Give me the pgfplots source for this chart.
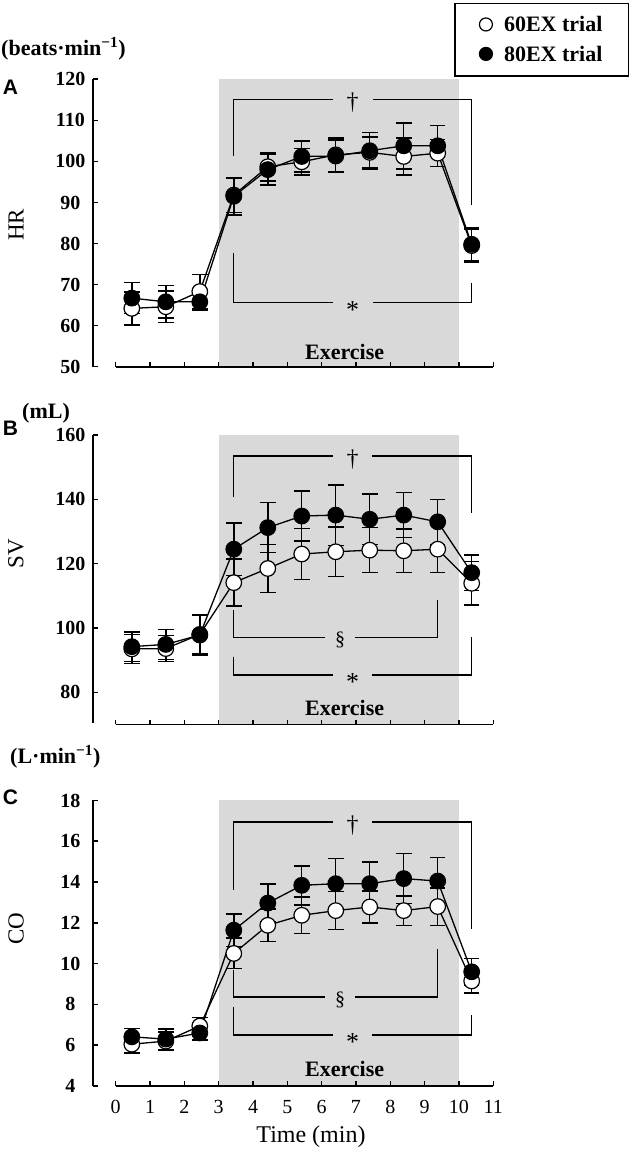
\documentclass[border=0pt]{standalone}
\usepackage{pgfplots}
\pgfplotsset{compat=1.18}
\usepackage{pgfplotstable}
\usepackage{fontspec}
\setmainfont{Liberation Serif}
\newfontfamily\arial{Liberation Sans}

\definecolor{exgray}{RGB}{217,217,217}

% x, 60EX (a, ea), 80EX (b, eb)
\pgfplotstableread{
x     a     ea   b     eb
0.47  64.2  4.0  66.7  3.8
1.46  64.6  3.8  65.8  4.0
2.45  68.3  4.2  65.8  2.0
3.44  91.8  4.3  91.5  4.5
4.43  98.7  3.5  98.0  3.8
5.42  99.9  3.2  101.2 3.8
6.41  101.6 4.1  101.3 3.9
7.40  102.2 3.8  102.6 4.4
8.39  101.2 4.5  103.8 5.6
9.38  102.0 3.3  103.8 5.0
10.37 79.5  4.0  79.8  4.0
}\hrdata

\pgfplotstableread{
x     a     ea   b     eb
0.47  93.5  4.5  94.2  4.6
1.46  93.6  4.0  94.9  4.7
2.45  98.0  6.0  97.8  6.2
3.44  114.1 7.3  124.5 8.2
4.43  118.5 7.5  131.2 7.8
5.42  123.0 7.9  134.8 7.8
6.41  123.7 7.7  135.1 9.4
7.40  124.2 7.0  133.8 7.8
8.39  124.0 6.8  135.1 7.0
9.38  124.5 7.3  133.0 7.0
10.37 113.9 6.8  117.2 5.5
}\svdata

\pgfplotstableread{
x     a     ea    b     eb
0.47  6.05  0.42  6.41  0.41
1.46  6.20  0.45  6.30  0.50
2.45  6.94  0.42  6.60  0.35
3.44  10.50 0.75  11.64 0.80
4.43  11.88 0.80  12.97 0.93
5.42  12.37 0.90  13.84 0.96
6.41  12.60 0.93  13.92 1.23
7.40  12.78 0.78  13.92 1.06
8.39  12.60 0.72  14.17 1.23
9.38  12.80 0.92  14.05 1.15
10.37 9.15  0.60  9.60  0.65
}\codata

\pgfplotsset{
  panel/.style={
    scale only axis, width=400pt, clip=false, axis on top,
    xmin=-0.652, xmax=11,
    axis lines=left, axis line style={draw=none,-},
    tick align=inside, major tick length=4.5pt,
    tick style={black, line width=1.6pt},
    xtick={0,...,11},
    yticklabel style={font=\bfseries\fontsize{20}{24}\selectfont, anchor=center, xshift=-23pt},
    xticklabel style={font=\fontsize{20}{24}\selectfont, anchor=base, yshift=-27.3pt},
  },
  series/.style={black, line width=1.3pt, mark=*, mark size=7.8pt,
    mark options={fill=#1, line width=1.2pt},
    error bars/y dir=both, error bars/y explicit,
    error bars/error bar style={line width=1.5pt},
    error bars/error mark options={rotate=90, mark size=7.8pt, line width=1.5pt}},
  sopen/.style={series=white},
  sfill/.style={series=black},
}
\tikzset{
  br/.style={line width=1.3pt},
  ax/.style={line width=1.8pt},
  dag/.style={font=\fontsize{24}{24}\selectfont, anchor=base, yshift=-10.1pt, inner sep=0pt},
  sec/.style={font=\fontsize{20}{20}\selectfont, anchor=base, yshift=-8.6pt, inner sep=0pt},
  ast/.style={font=\fontsize{26}{26}\selectfont, anchor=base, yshift=-15.5pt, inner sep=0pt},
  exer/.style={font=\bfseries\fontsize{22}{22}\selectfont},
  unit/.style={anchor=west, inner sep=0pt, font=\bfseries\fontsize{22}{22}\selectfont},
  letter/.style={font=\arial\bfseries\fontsize{21}{21}\selectfont},
  ylab/.style={rotate=90, font=\fontsize{23}{23}\selectfont},
}

\begin{document}
\begin{tikzpicture}
\useasboundingbox (0,0) rectangle (631pt,1150pt);

% ---- A: HR ----
\begin{axis}[panel, at={(93.3pt,783.3pt)}, anchor=south west, height=287.4pt,
  ymin=50, ymax=120, ytick={50,60,...,120},
  yticklabels={50,60,70,80,90,100,110,120}, xticklabels={},
  legend style={at={(axis description cs:1.34,1.2665)}, anchor=north east,
    draw=black, line width=1.8pt, font=\bfseries\fontsize{22}{26}\selectfont,
    inner xsep=24pt, inner ysep=11pt, row sep=8.7pt, column sep=9pt,
    nodes={inner sep=2pt, anchor=base}},
  legend cell align=left]
\fill[exgray] (axis cs:3,50) rectangle (axis cs:10,120);
\draw[ax] (axis cs:-0.652,50) -- (axis cs:-0.652,120);
\draw[ax] (axis cs:0,50) -- (axis cs:11,50);
\draw[br] (axis cs:3.44,101.2) |- (axis cs:6.33,115.1);
\draw[br] (axis cs:7.5,115.1) -| (axis cs:10.37,89.4);
\node[dag] at (axis cs:6.9,115.1) {†};
\draw[br] (axis cs:3.44,77.6) |- (axis cs:6.33,65.6);
\draw[br] (axis cs:7.5,65.6) -| (axis cs:10.37,70.5);
\node[ast] at (axis cs:6.9,65.6) {*};
\node[exer] at (axis cs:6.67,53.7) {Exercise};
\addplot[forget plot, sopen] table[x=x, y=a, y error=ea] {\hrdata};
\addplot[forget plot, sfill] table[x=x, y=b, y error=eb] {\hrdata};
\addlegendimage{legend image code/.code={\draw[line width=1.2pt, fill=white] (0pt,7.4pt) circle (6.5pt);}}
\addlegendentry{60EX trial}
\addlegendimage{legend image code/.code={\draw[line width=1.2pt, fill=black] (0pt,7.4pt) circle (6.5pt);}}
\addlegendentry{80EX trial}
\end{axis}

% ---- B: SV ----
\begin{axis}[panel, at={(93.3pt,425.5pt)}, anchor=south west, height=289.5pt,
  ymin=70, ymax=160, ytick={80,100,...,160},
  yticklabels={80,100,120,140,160}, xticklabels={}]
\fill[exgray] (axis cs:3,70) rectangle (axis cs:10,160);
\draw[ax] (axis cs:-0.652,70.6) -- (axis cs:-0.652,160);
\draw[ax] (axis cs:0,70) -- (axis cs:11,70);
\draw[br] (axis cs:3.44,140.8) |- (axis cs:6.33,153.5);
\draw[br] (axis cs:7.48,153.5) -| (axis cs:10.37,135.6);
\node[dag] at (axis cs:6.9,153.5) {†};
\draw[br] (axis cs:3.44,105.6) |- (axis cs:6.1,97.1);
\draw[br] (axis cs:6.98,97.1) -| (axis cs:9.38,108.7);
\node[sec] at (axis cs:6.54,97.1) {§};
\draw[br] (axis cs:3.44,91.1) |- (axis cs:6.33,85.4);
\draw[br] (axis cs:7.48,85.4) -| (axis cs:10.37,97.3);
\node[ast] at (axis cs:6.9,85.4) {*};
\node[exer] at (axis cs:6.67,75.1) {Exercise};
\addplot[sopen] table[x=x, y=a, y error=ea] {\svdata};
\addplot[sfill] table[x=x, y=b, y error=eb] {\svdata};
\end{axis}

% ---- C: CO ----
\begin{axis}[panel, at={(93.3pt,64pt)}, anchor=south west, height=285.5pt,
  ymin=4, ymax=18, ytick={4,6,...,18},
  yticklabels={4,6,8,10,12,14,16,18},
  xticklabels={0,1,2,3,4,5,6,7,8,9,10,11}]
\fill[exgray] (axis cs:3,4) rectangle (axis cs:10,18);
\draw[ax] (axis cs:-0.652,4) -- (axis cs:-0.652,18);
\draw[ax] (axis cs:0,4) -- (axis cs:11,4);
\draw[br] (axis cs:3.44,13.6) |- (axis cs:6.33,16.94);
\draw[br] (axis cs:7.48,16.94) -| (axis cs:10.37,11.7);
\node[dag] at (axis cs:6.9,16.94) {†};
\draw[br] (axis cs:3.44,9.68) |- (axis cs:6.1,8.37);
\draw[br] (axis cs:6.98,8.37) -| (axis cs:9.38,10.74);
\node[sec] at (axis cs:6.54,8.37) {§};
\draw[br] (axis cs:3.44,7.85) |- (axis cs:6.33,6.5);
\draw[br] (axis cs:7.48,6.5) -| (axis cs:10.37,7.48);
\node[ast] at (axis cs:6.9,6.5) {*};
\node[exer] at (axis cs:6.67,4.83) {Exercise};
\addplot[sopen] table[x=x, y=a, y error=ea] {\codata};
\addplot[sfill] table[x=x, y=b, y error=eb] {\codata};
\end{axis}

% labels round the panels
\node[font=\fontsize{24}{24}\selectfont, anchor=base] at (311pt,7.3pt) {Time (min)};
\node[letter] at (10.5pt,1062.5pt) {A};
\node[letter] at (10.5pt,722pt) {B};
\node[letter] at (10.5pt,353pt) {C};
\node[ylab] at (16pt,925pt) {HR};
\node[ylab] at (16pt,596pt) {SV};
\node[ylab] at (16pt,221pt) {CO};
\node[unit] at (1pt,1101pt) {(beats·min\textsuperscript{−1})};
\node[unit] at (22pt,737pt) {(mL)};
\node[unit] at (10pt,393pt) {(L·min\textsuperscript{−1})};
\end{tikzpicture}
\end{document}
